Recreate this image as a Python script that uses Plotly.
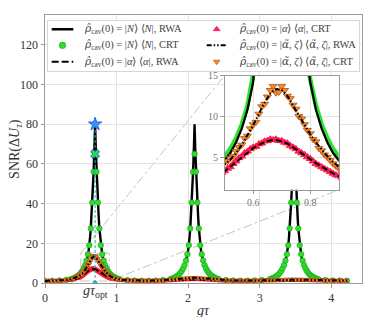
import plotly.graph_objects as go

# ---------------- data ----------------
x_ticks = [0, 1, 2, 3, 4]
y_ticks = [0, 20, 40, 60, 80, 100, 120]
inset_x_ticks = [0.6, 0.8]
inset_y_ticks = [5, 10, 15]

g_tau_opt = 0.70
snr_opt_rwa = 80
snr_opt_crt = 65

# zoom window shown in the inset: [x0, x1, y0, y1]
zoom_box = [0.5, 0.9, 1.0, 15.0]

# |N><N| , RWA (solid line)
fock_rwa_x = [0.00, 0.10,
    0.20, 0.28, 0.36, 0.42, 0.46, 0.50, 0.52, 0.54, 0.56, 0.58, 0.60, 0.61, 0.62, 0.63, 0.64, 0.65, 0.66, 0.67, 0.68, 0.69,
    0.70,
    0.71, 0.72, 0.73, 0.74, 0.75, 0.76, 0.77, 0.78, 0.79, 0.80, 0.82, 0.84, 0.86, 0.88, 0.90, 0.94, 0.98, 1.04, 1.12, 1.20,
    1.30, 1.40, 1.50,
    1.59, 1.67, 1.75, 1.81, 1.85, 1.89, 1.91, 1.93, 1.95, 1.97, 1.99, 2.00, 2.01, 2.02, 2.03, 2.04, 2.05, 2.06, 2.07, 2.08,
    2.09,
    2.10, 2.11, 2.12, 2.13, 2.14, 2.15, 2.16, 2.17, 2.18, 2.19, 2.21, 2.23, 2.25, 2.27, 2.29, 2.33, 2.37, 2.43, 2.51, 2.59,
    2.69, 2.79, 2.89,
    2.98, 3.06, 3.14, 3.20, 3.24, 3.28, 3.30, 3.32, 3.34, 3.36, 3.38, 3.39, 3.40, 3.41, 3.42, 3.43, 3.44, 3.45, 3.46, 3.47,
    3.48,
    3.49, 3.50, 3.51, 3.52, 3.53, 3.54, 3.55, 3.56, 3.57, 3.58, 3.60, 3.62, 3.64, 3.66, 3.68, 3.72, 3.76, 3.82, 3.90, 3.98,
    4.10, 4.22]
fock_rwa_y = [1.05, 1.1,
    1.25, 1.5, 1.9, 2.6, 3.4, 4.6, 5.5, 6.8, 8.5, 10.8, 14.2, 16.5, 19, 23, 27.5, 33.5, 40.5, 48, 56.5, 67,
    80,
    67, 56.5, 48, 40.5, 33.5, 27.5, 23, 19, 16.5, 14.2, 10.8, 8.5, 6.8, 5.5, 4.6, 3.4, 2.6, 1.9, 1.5, 1.25,
    1.15, 1.05, 1.15,
    1.25, 1.5, 1.9, 2.6, 3.4, 4.6, 5.5, 6.8, 8.5, 10.8, 14.2, 16.5, 19, 23, 27.5, 33.5, 40.5, 48, 56.5, 67,
    80,
    67, 56.5, 48, 40.5, 33.5, 27.5, 23, 19, 16.5, 14.2, 10.8, 8.5, 6.8, 5.5, 4.6, 3.4, 2.6, 1.9, 1.5, 1.25,
    1.15, 1.05, 1.15,
    1.25, 1.5, 1.9, 2.6, 3.4, 4.6, 5.5, 6.8, 8.5, 10.8, 14.2, 16.5, 19, 23, 27.5, 33.5, 40.5, 48, 56.5, 67,
    80,
    67, 56.5, 48, 40.5, 33.5, 27.5, 23, 19, 16.5, 14.2, 10.8, 8.5, 6.8, 5.5, 4.6, 3.4, 2.6, 1.9, 1.5, 1.25,
    1.1, 1.05]

# |N><N| , CRT (green dots)
fock_crt_x = [0.00, 0.10, 0.20, 0.30,
    0.36, 0.38, 0.40, 0.42, 0.44, 0.46, 0.48, 0.50, 0.52, 0.54, 0.56, 0.58, 0.60, 0.62, 0.64, 0.66, 0.68,
    0.70,
    0.72, 0.74, 0.76, 0.78, 0.80, 0.82, 0.84, 0.86, 0.88, 0.90, 0.92, 0.94, 0.96, 0.98, 1.00, 1.02, 1.04,
    1.15, 1.25, 1.35, 1.45, 1.55, 1.65,
    1.75, 1.77, 1.79, 1.81, 1.83, 1.85, 1.87, 1.89, 1.91, 1.93, 1.95, 1.97, 1.99, 2.01, 2.03, 2.05, 2.07,
    2.09,
    2.11, 2.13, 2.15, 2.17, 2.19, 2.21, 2.23, 2.25, 2.27, 2.29, 2.31, 2.33, 2.35, 2.37, 2.39, 2.41, 2.43,
    2.53, 2.63, 2.73, 2.83, 2.93, 3.03,
    3.14, 3.16, 3.18, 3.20, 3.22, 3.24, 3.26, 3.28, 3.30, 3.32, 3.34, 3.36, 3.38, 3.40, 3.42, 3.44, 3.46,
    3.48,
    3.50, 3.52, 3.54, 3.56, 3.58, 3.60, 3.62, 3.64, 3.66, 3.68, 3.70, 3.72, 3.74, 3.76, 3.78, 3.80, 3.82,
    3.92, 4.02, 4.12, 4.22]
fock_crt_y = [1.1, 1.15, 1.3, 1.6,
    1.9, 2.1, 2.4, 2.7, 3.1, 3.6, 4.2, 5.0, 6.0, 7.3, 9.0, 11.3, 14.5, 19, 27.5, 40.5, 56,
    65,
    56, 40.5, 27.5, 19, 14.5, 11.3, 9.0, 7.3, 6.0, 5.0, 4.2, 3.6, 3.1, 2.7, 2.4, 2.1, 1.9,
    1.45, 1.25, 1.15, 1.1, 1.2, 1.45,
    1.9, 2.1, 2.4, 2.7, 3.1, 3.6, 4.2, 5.0, 6.0, 7.3, 9.0, 11.3, 14.5, 19, 27.5, 40.5, 56,
    65,
    56, 40.5, 27.5, 19, 14.5, 11.3, 9.0, 7.3, 6.0, 5.0, 4.2, 3.6, 3.1, 2.7, 2.4, 2.1, 1.9,
    1.45, 1.25, 1.15, 1.15, 1.25, 1.5,
    1.9, 2.1, 2.4, 2.7, 3.1, 3.6, 4.2, 5.0, 6.0, 7.3, 9.0, 11.3, 14.5, 19, 27.5, 40.5, 56,
    65,
    56, 40.5, 27.5, 19, 14.5, 11.3, 9.0, 7.3, 6.0, 5.0, 4.2, 3.6, 3.1, 2.7, 2.4, 2.1, 1.9,
    1.5, 1.3, 1.2, 1.15]

# coherent / squeezed states, RWA (smooth lines)
coh_rwa_x = [0.00, 0.10, 0.20, 0.30, 0.35, 0.40, 0.44, 0.48, 0.50, 0.52, 0.54, 0.56, 0.58, 0.60, 0.62, 0.64,
    0.66, 0.68, 0.70, 0.72, 0.74, 0.76, 0.78, 0.80, 0.82, 0.84, 0.86, 0.88, 0.90, 0.92, 0.95, 1.00,
    1.05, 1.10, 1.20, 1.40, 1.60, 1.80, 1.90, 2.00, 2.09, 2.20, 2.30, 2.40, 2.60, 2.80, 3.00, 3.20,
    3.35, 3.48, 3.60, 3.75, 4.00, 4.22]
alpha_rwa_y = [1.0, 1.0, 1.05, 1.25, 1.45, 1.7, 2.15, 2.85, 3.25, 3.8, 4.4, 5.0, 5.6, 6.1, 6.5, 6.85,
    7.05, 7.1, 6.95, 6.65, 6.2, 5.75, 5.25, 4.75, 4.25, 3.8, 3.4, 3.0, 2.65, 2.35, 2.0, 1.6,
    1.4, 1.25, 1.1, 1.0, 1.05, 1.3, 1.5, 1.7, 1.8, 1.65, 1.45, 1.25, 1.05, 1.0, 1.1, 1.25,
    1.35, 1.4, 1.35, 1.25, 1.1, 1.05]
squeezed_rwa_y = [1.0, 1.05, 1.15, 1.5, 1.85, 2.4, 3.0, 3.7, 4.1, 4.7, 5.5, 6.5, 7.7, 8.9, 10.3, 11.7,
    12.8, 13.35, 13.25, 12.5, 11.3, 10.1, 8.9, 7.8, 6.8, 5.9, 5.1, 4.4, 3.75, 3.25, 2.7, 2.05,
    1.75, 1.55, 1.35, 1.2, 1.3, 1.8, 2.2, 2.55, 2.7, 2.45, 2.1, 1.75, 1.3, 1.2, 1.35, 1.55,
    1.7, 1.8, 1.7, 1.5, 1.3, 1.2]

# coherent / squeezed states, CRT (markers)
coh_crt_x = [0.00, 0.05, 0.10, 0.15, 0.20, 0.25, 0.30, 0.35, 0.40,
    0.45, 0.46, 0.47, 0.48, 0.49, 0.50, 0.51, 0.52, 0.53, 0.54, 0.55, 0.56, 0.57, 0.58, 0.59, 0.60,
    0.61, 0.62, 0.63, 0.64, 0.65, 0.66, 0.67, 0.68, 0.69, 0.70, 0.71, 0.72, 0.73, 0.74, 0.75, 0.76,
    0.77, 0.78, 0.79, 0.80, 0.81, 0.82, 0.83, 0.84, 0.85, 0.86, 0.87, 0.88, 0.89, 0.90, 0.91, 0.92,
    0.93, 0.94, 0.95,
    1.00, 1.05, 1.10, 1.15, 1.20, 1.25, 1.30, 1.35, 1.40, 1.45, 1.50, 1.55, 1.60, 1.65, 1.70, 1.75,
    1.80, 1.85, 1.90, 1.95, 2.00, 2.05, 2.10, 2.15, 2.20, 2.25, 2.30, 2.35, 2.40, 2.45, 2.50, 2.55,
    2.60, 2.65, 2.70, 2.75, 2.80, 2.85, 2.90, 2.95, 3.00, 3.05, 3.10, 3.15, 3.20, 3.25, 3.30, 3.35,
    3.40, 3.45, 3.50, 3.55, 3.60, 3.65, 3.70, 3.75, 3.80, 3.85, 3.90, 3.95, 4.00, 4.05, 4.10, 4.15,
    4.20]
alpha_crt_y = [1.0, 1.0, 1.0, 1.0, 1.05, 1.1, 1.25, 1.45, 1.7,
    2.4, 2.6, 2.7, 3.0, 3.1, 3.3, 3.6, 3.8, 4.2, 4.5, 4.9, 5.1, 5.5, 5.7, 6.0, 6.2,
    6.3, 6.6, 6.7, 6.95, 7.0, 7.2, 7.1, 7.2, 7.0, 7.0, 6.8, 6.7, 6.4, 6.2, 6.0, 5.7,
    5.5, 5.3, 5.0, 4.8, 4.5, 4.2, 4.0, 3.8, 3.6, 3.4, 3.2, 3.0, 2.8, 2.7, 2.5, 2.4,
    2.2, 2.1, 2.0,
    1.65, 1.45, 1.3, 1.2, 1.15, 1.1, 1.05, 1.05, 1.05, 1.05, 1.05, 1.1, 1.1, 1.15, 1.2, 1.3,
    1.35, 1.45, 1.55, 1.65, 1.75, 1.8, 1.85, 1.8, 1.7, 1.6, 1.5, 1.4, 1.3, 1.2, 1.15, 1.1,
    1.1, 1.05, 1.05, 1.05, 1.05, 1.05, 1.1, 1.1, 1.15, 1.2, 1.2, 1.25, 1.3, 1.3, 1.35, 1.4,
    1.4, 1.45, 1.45, 1.4, 1.4, 1.35, 1.3, 1.3, 1.25, 1.2, 1.2, 1.15, 1.15, 1.1, 1.1, 1.1,
    1.05]
squeezed_crt_y = [1.0, 1.0, 1.05, 1.1, 1.15, 1.3, 1.5, 1.85, 2.35,
    3.3, 3.5, 3.6, 3.9, 4.1, 4.4, 4.5, 4.9, 5.1, 5.7, 6.2, 6.5, 7.3, 7.6, 8.5, 9.0,
    9.3, 10.3, 11.2, 11.5, 12.4, 13.2, 13.7, 12.9, 13.0, 13.7, 13.2, 12.5, 12.2, 11.4, 10.9, 10.0,
    9.7, 9.0, 8.3, 7.9, 7.2, 6.9, 6.1, 5.8, 5.3, 5.0, 4.6, 4.2, 3.9, 3.6, 3.4, 3.1,
    2.9, 2.7, 2.6,
    2.1, 1.8, 1.6, 1.45, 1.35, 1.3, 1.25, 1.2, 1.2, 1.2, 1.2, 1.25, 1.3, 1.4, 1.5, 1.65,
    1.8, 2.0, 2.2, 2.4, 2.55, 2.65, 2.7, 2.6, 2.45, 2.3, 2.1, 1.9, 1.75, 1.6, 1.5, 1.4,
    1.3, 1.25, 1.25, 1.2, 1.2, 1.25, 1.25, 1.3, 1.35, 1.4, 1.45, 1.5, 1.55, 1.6, 1.65, 1.7,
    1.75, 1.8, 1.8, 1.75, 1.7, 1.65, 1.6, 1.5, 1.45, 1.4, 1.35, 1.3, 1.3, 1.25, 1.25, 1.2,
    1.2]

for a, b in [(fock_rwa_x, fock_rwa_y), (fock_crt_x, fock_crt_y), (coh_rwa_x, alpha_rwa_y),
             (coh_rwa_x, squeezed_rwa_y), (coh_crt_x, alpha_crt_y), (coh_crt_x, squeezed_crt_y)]:
    assert len(a) == len(b), (len(a), len(b))

RHO = "<span style=\"font-family:DejaVu Serif\"><i>ρ̂</i></span>"
ATIL = "<span style=\"font-family:DejaVu Serif\"><i>α̃</i></span>"
labels = {
    "fock_rwa": RHO + "<sub>cav</sub>(0) = |<i>N</i>⟩ ⟨<i>N</i>|, RWA",
    "fock_crt": RHO + "<sub>cav</sub>(0) = |<i>N</i>⟩ ⟨<i>N</i>|, CRT",
    "alpha_rwa": RHO + "<sub>cav</sub>(0) = |<i>α</i>⟩ ⟨<i>α</i>|, RWA",
    "alpha_crt": RHO + "<sub>cav</sub>(0) = |<i>α</i>⟩ ⟨<i>α</i>|, CRT",
    "sq_rwa": RHO + "<sub>cav</sub>(0) = |" + ATIL + ", <i>ζ</i>⟩ ⟨" + ATIL + ", <i>ζ</i>|, RWA",
    "sq_crt": RHO + "<sub>cav</sub>(0) = |" + ATIL + ", <i>ζ</i>⟩ ⟨" + ATIL + ", <i>ζ</i>|, CRT",
}

# ---------------- style ----------------
FONT = "Liberation Serif"
GREEN = "#2be02b"
GREEN_EDGE = "#159a15"
PINK = "#ff1a8c"
PINK_EDGE = "#ff1010"
ORANGE = "#ff8c1a"
ORANGE_EDGE = "#a8501e"
TEAL = "#20b2aa"

X_RANGE = [0, 4.43]
Y_RANGE = [0, 135]
INSET_XDOM = [0.5666, 0.9268]
INSET_YDOM = [0.348, 0.774]
LEG_XDOM = [0.0085, 0.9905]
LEG_YDOM = [0.7926, 0.9778]
LEG_W, LEG_H = 311.3, 50.0   # legend box size in px (axis units = px)

styles = {
    "fock_rwa": dict(mode="lines", line=dict(color="black", width=2.4)),
    "fock_crt": dict(mode="markers", marker=dict(symbol="circle", size=5.5, color=GREEN,
                                                 line=dict(color=GREEN_EDGE, width=0.6))),
    "alpha_crt": dict(mode="markers", marker=dict(symbol="triangle-up", size=5, color=PINK,
                                                  line=dict(color=PINK_EDGE, width=0.6))),
    "alpha_rwa": dict(mode="lines", line=dict(color="black", width=2, dash="7px,3px")),
    "sq_crt": dict(mode="markers", marker=dict(symbol="triangle-down", size=5, color=ORANGE,
                                               line=dict(color=ORANGE_EDGE, width=0.6))),
    "sq_rwa": dict(mode="lines", line=dict(color="black", width=2, dash="5px,2px,1.5px,2px,1.5px,2px")),
}
series = {
    "fock_rwa": (fock_rwa_x, fock_rwa_y),
    "fock_crt": (fock_crt_x, fock_crt_y),
    "alpha_crt": (coh_crt_x, alpha_crt_y),
    "alpha_rwa": (coh_rwa_x, alpha_rwa_y),
    "sq_crt": (coh_crt_x, squeezed_crt_y),
    "sq_rwa": (coh_rwa_x, squeezed_rwa_y),
}

fig = go.Figure()

# main panel
for key in ["fock_rwa", "fock_crt", "alpha_crt", "alpha_rwa", "sq_crt", "sq_rwa"]:
    xs, ys = series[key]
    fig.add_trace(go.Scatter(x=xs, y=ys, name=labels[key], showlegend=False, **styles[key]))

# optimal-time markers
fig.add_trace(go.Scatter(x=[g_tau_opt, g_tau_opt], y=[0, snr_opt_rwa], mode="lines",
                         line=dict(color=TEAL, width=1, dash="3px,2px"), showlegend=False))
fig.add_trace(go.Scatter(x=[g_tau_opt], y=[0], mode="markers",
                         marker=dict(symbol="circle", size=5, color=TEAL), showlegend=False))
fig.add_trace(go.Scatter(x=[g_tau_opt], y=[snr_opt_crt], mode="markers",
                         marker=dict(symbol="x", size=8, color=GREEN, line=dict(color="#2060ff", width=1)),
                         showlegend=False))
fig.add_trace(go.Scatter(x=[g_tau_opt], y=[snr_opt_rwa], mode="markers",
                         marker=dict(symbol="star", size=10, color="#3399ff", line=dict(color="#1050d0", width=0.8)),
                         showlegend=False))

# inset (same data, zoomed)
fig.add_trace(go.Scatter(x=fock_crt_x, y=fock_crt_y, mode="lines", line=dict(color=GREEN, width=4.5),
                         xaxis="x2", yaxis="y2", showlegend=False))
fig.add_trace(go.Scatter(x=fock_rwa_x, y=fock_rwa_y, mode="lines", line=dict(color="black", width=2.2),
                         xaxis="x2", yaxis="y2", showlegend=False))
fig.add_trace(go.Scatter(x=coh_crt_x, y=alpha_crt_y, mode="markers",
                         marker=dict(symbol="triangle-up", size=7, color=PINK, line=dict(color=PINK_EDGE, width=0.8)),
                         xaxis="x2", yaxis="y2", showlegend=False))
fig.add_trace(go.Scatter(x=coh_rwa_x, y=alpha_rwa_y, mode="lines",
                         line=dict(color="black", width=2, dash="6px,3px"),
                         xaxis="x2", yaxis="y2", showlegend=False))
fig.add_trace(go.Scatter(x=coh_crt_x, y=squeezed_crt_y, mode="markers",
                         marker=dict(symbol="triangle-down", size=7, color=ORANGE, line=dict(color=ORANGE_EDGE, width=0.8)),
                         xaxis="x2", yaxis="y2", showlegend=False))
fig.add_trace(go.Scatter(x=coh_rwa_x, y=squeezed_rwa_y, mode="lines",
                         line=dict(color="black", width=2, dash="5px,2px,1.5px,2px,1.5px,2px"),
                         xaxis="x2", yaxis="y2", showlegend=False))

# legend panel (two columns, column-major like the reference)
legend_layout = [
    ("fock_rwa", 0, 0), ("fock_crt", 0, 1), ("alpha_rwa", 0, 2),
    ("alpha_crt", 1, 0), ("sq_rwa", 1, 1), ("sq_crt", 1, 2),
]
col_sym = [(4.0, 25.6), (159.0, 179.0)]
col_text = [34.0, 189.0]
row_y = [8.3, 24.6, 41.0]
annotations = []
for key, c, r in legend_layout:
    s0, s1 = col_sym[c]
    st = dict(styles[key])
    if st["mode"] == "lines":
        fig.add_trace(go.Scatter(x=[s0, s1], y=[row_y[r], row_y[r]], xaxis="x3", yaxis="y3",
                                 showlegend=False, hoverinfo="skip", **st))
    else:
        m = dict(st["marker"])
        m["size"] = m["size"] + 1
        fig.add_trace(go.Scatter(x=[(s0 + s1) / 2], y=[row_y[r]], xaxis="x3", yaxis="y3",
                                 mode="markers", marker=m, showlegend=False, hoverinfo="skip"))
    annotations.append(dict(x=col_text[c], y=row_y[r], xref="x3", yref="y3", text=labels[key],
                            showarrow=False, xanchor="left", yanchor="middle",
                            font=dict(family=FONT, size=10.5, color="#444")))

# zoom rectangle and connector lines
bx0, bx1, by0, by1 = zoom_box
def px(xv):
    return (xv - X_RANGE[0]) / (X_RANGE[1] - X_RANGE[0])
def py(yv):
    return (yv - Y_RANGE[0]) / (Y_RANGE[1] - Y_RANGE[0])

GRAYLINE = "#c4c4c4"
shapes = [
    dict(type="rect", xref="x", yref="y", x0=bx0, x1=bx1, y0=by0, y1=by1,
         line=dict(color=GRAYLINE, width=1, dash="dashdot"), layer="below"),
    dict(type="line", xref="paper", yref="paper", x0=px(bx0), y0=py(by1), x1=INSET_XDOM[0], y1=INSET_YDOM[1],
         line=dict(color=GRAYLINE, width=1, dash="dashdot"), layer="below"),
    dict(type="line", xref="paper", yref="paper", x0=px(bx1), y0=py(by0), x1=INSET_XDOM[1], y1=INSET_YDOM[0],
         line=dict(color=GRAYLINE, width=1, dash="dashdot"), layer="below"),
]

axis_common = dict(showgrid=True, gridcolor="#e3e3e3", gridwidth=1, zeroline=False,
                   showline=True, linecolor="#9a9a9a", linewidth=1, mirror=True,
                   ticks="outside", ticklen=3.5, tickcolor="#9a9a9a", tickwidth=1)

INSET_TICKFONT = dict(size=10, family=FONT, color="#777")
annotations += [
    dict(x=g_tau_opt, y=-0.004, yshift=3, xref="x", yref="paper", text="<i>gτ</i><sub>opt</sub>",
         showarrow=False, xanchor="center", yanchor="top", font=dict(size=14, family=FONT, color="#333")),
    dict(x=0.5, y=-0.102, xref="paper", yref="paper", text="<i>gτ</i>", showarrow=False,
         xanchor="center", yanchor="middle", font=dict(size=14, family=FONT, color="#333")),
    dict(x=-0.095, y=0.5, xref="paper", yref="paper", text="SNR(Δ<i>U</i><sub><i>τ</i></sub>)",
         textangle=-90, showarrow=False, xanchor="center", yanchor="middle",
         font=dict(size=14, family=FONT, color="#333")),
    # top tick label of the inset y axis
    dict(x=INSET_XDOM[0], y=inset_y_ticks[-1], xref="paper", yref="y2", xshift=-5,
         text=str(inset_y_ticks[-1]), showarrow=False, xanchor="right", yanchor="middle",
         font=INSET_TICKFONT),
]

fig.update_layout(
    width=381, height=317,
    margin=dict(l=45, r=19, t=15, b=32),
    paper_bgcolor="white", plot_bgcolor="white",
    font=dict(family=FONT, color="#222"),
    showlegend=False,
    xaxis=dict(range=X_RANGE, tickvals=x_ticks, ticktext=[str(v) for v in x_ticks],
               tickfont=dict(size=12, family=FONT, color="#333"), domain=[0, 1], **axis_common),
    yaxis=dict(range=Y_RANGE, tickvals=y_ticks, ticktext=[str(v) for v in y_ticks],
               tickfont=dict(size=12, family=FONT, color="#333"), domain=[0, 1], **axis_common),
    xaxis2=dict(range=[bx0, bx1], domain=INSET_XDOM, anchor="y2", tickvals=inset_x_ticks,
                ticktext=["0.6", "0.8"], tickfont=INSET_TICKFONT, **axis_common),
    yaxis2=dict(range=[by0, by1], domain=INSET_YDOM, anchor="x2", tickvals=inset_y_ticks,
                ticktext=[str(v) for v in inset_y_ticks[:-1]] + [""], tickfont=INSET_TICKFONT,
                **axis_common),
    xaxis3=dict(range=[0, LEG_W], domain=LEG_XDOM, anchor="y3", showgrid=False, zeroline=False,
                showticklabels=False, ticks="", showline=True, mirror=True, linecolor="#d6d6d6",
                linewidth=1, fixedrange=True),
    yaxis3=dict(range=[LEG_H, 0], domain=LEG_YDOM, anchor="x3", showgrid=False, zeroline=False,
                showticklabels=False, ticks="", showline=True, mirror=True, linecolor="#d6d6d6",
                linewidth=1, fixedrange=True),
    shapes=shapes,
    annotations=annotations,
)

fig.write_html("out.html", config={"displayModeBar": False, "staticPlot": True},
               post_script="document.body.style.margin='0px';")
